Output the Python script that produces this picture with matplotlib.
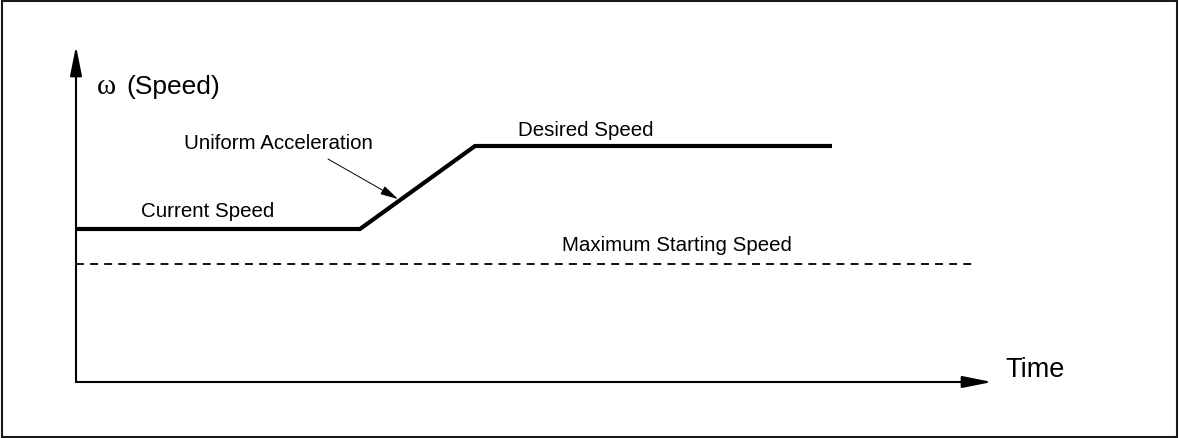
import matplotlib
matplotlib.use("Agg")
import matplotlib.pyplot as plt
from matplotlib.patches import FancyArrowPatch, Rectangle

# ---- data (time / speed in arbitrary units, origin at axis corner) ----
time_pts = [0.0, 2.84, 3.99, 7.56]
speed_pts = [1.53, 1.53, 2.36, 2.36]
max_start_speed = 1.18
max_start_time = [0.0, 9.00]
x_axis_end = 9.16
y_axis_end = 3.36

labels = {
    "current": "Current Speed",
    "accel": "Uniform Acceleration",
    "desired": "Desired Speed",
    "maxstart": "Maximum Starting Speed",
    "time": "Time",
    "speed": "(Speed)",
    "omega": "\u03c9",
}

W, H, DPI = 1179, 439, 100
fig = plt.figure(figsize=(W / DPI, H / DPI), dpi=DPI)
fig.patch.set_facecolor("white")

# outer frame
fig.patches.append(Rectangle((1.5 / W, 1.5 / H), 1175.5 / W, 435.5 / H,
                             transform=fig.transFigure, fill=False,
                             edgecolor="#1a1a1a", lw=1.5))

ax = fig.add_axes([0, 0, 1, 1])
ax.set_xlim(-0.76, (W - 76) / 100)
ax.set_ylim(-(H - 383) / 100, 3.83)
ax.axis("off")

sans = "Liberation Sans"

# axes arrows
for end in [(x_axis_end, 0.0), (0.0, y_axis_end)]:
    ax.add_patch(FancyArrowPatch((0, 0), end,
                                 arrowstyle="-|>,head_length=1.8,head_width=0.36",
                                 mutation_scale=10, lw=1.5, color="black",
                                 shrinkA=0, shrinkB=0))

# speed profile
ax.plot(time_pts, speed_pts, color="black", lw=3.0,
        solid_joinstyle="miter", solid_capstyle="butt")

# maximum starting speed
ax.plot(max_start_time, [max_start_speed, max_start_speed], color="black",
        lw=1.3, linestyle=(0, (4.4, 3.4)))

# labels
fs_small = 14.8
ax.text(1.315, 1.66, labels["current"], ha="center", va="baseline",
        fontsize=fs_small, family=sans)
ax.text(2.025, 2.34, labels["accel"], ha="center", va="baseline",
        fontsize=fs_small, family=sans)
ax.text(5.10, 2.47, labels["desired"], ha="center", va="baseline",
        fontsize=fs_small, family=sans)
ax.text(6.005, 1.32, labels["maxstart"], ha="center", va="baseline",
        fontsize=fs_small, family=sans)
ax.text(9.29, 0.06, labels["time"], ha="left", va="baseline",
        fontsize=19.5, family=sans)
ax.text(0.21, 2.89, labels["omega"], ha="left", va="baseline",
        fontsize=21, family="Liberation Serif")
ax.text(0.50, 2.89, labels["speed"], ha="left", va="baseline",
        fontsize=19, family=sans)

# annotation arrow for acceleration
ax.add_patch(FancyArrowPatch((2.52, 2.23), (3.22, 1.83),
                             arrowstyle="-|>,head_length=1.1,head_width=0.28",
                             mutation_scale=10, lw=0.7, color="black",
                             shrinkA=0, shrinkB=0))

fig.savefig("out.png", dpi=DPI, facecolor="white")
